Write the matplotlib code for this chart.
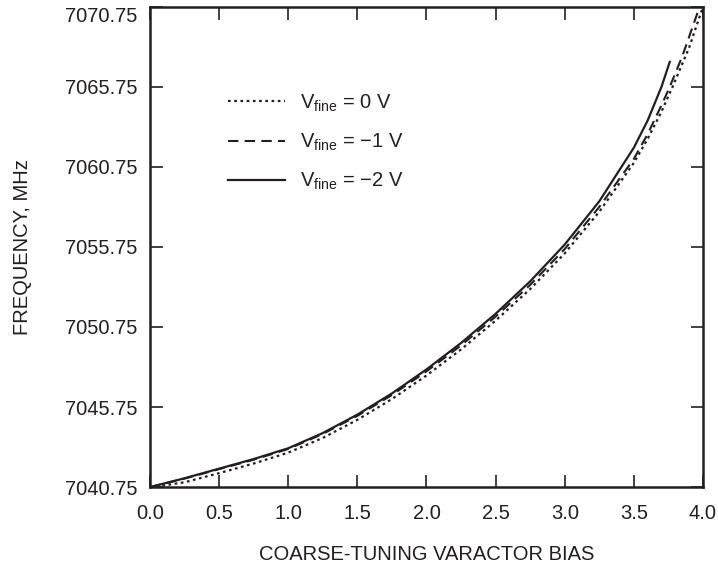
#!/usr/bin/env python3
import matplotlib
matplotlib.use("Agg")
import matplotlib.pyplot as plt

plt.rcParams["font.family"] = ["Liberation Sans", "DejaVu Sans"]
plt.rcParams["mathtext.fontset"] = "custom"
plt.rcParams["mathtext.rm"] = "Liberation Sans"
plt.rcParams["mathtext.it"] = "Liberation Sans"

INK = "#231f20"
FS = 14.5

# coarse-tuning bias (V) vs frequency (MHz)
x_m2 = [0.0, 0.25, 0.5, 0.75, 1.0, 1.25, 1.5, 1.75, 2.0, 2.25, 2.5, 2.75, 3.0, 3.25, 3.5, 3.6, 3.7, 3.76]
f_m2 = [7040.75, 7041.3, 7041.9, 7042.5, 7043.175, 7044.125, 7045.275, 7046.6, 7048.1, 7049.75,
        7051.575, 7053.6, 7055.9, 7058.6, 7061.95, 7063.65, 7065.75, 7067.31]

x_m1 = [0.0, 0.25, 0.5, 0.75, 1.0, 1.25, 1.5, 1.75, 2.0, 2.25, 2.5, 2.75, 3.0, 3.25, 3.5, 3.6, 3.7, 3.76, 3.85, 3.97]
f_m1 = [7040.75, 7041.28, 7041.87, 7042.46, 7043.13, 7044.07, 7045.2, 7046.5, 7047.98, 7049.6,
        7051.4, 7053.38, 7055.62, 7058.25, 7061.25, 7062.8, 7064.6, 7065.75, 7067.65, 7070.6]

x_0 = [0.0, 0.25, 0.5, 0.75, 1.0, 1.25, 1.5, 1.75, 2.0, 2.25, 2.5, 2.75, 3.0, 3.25, 3.5, 3.6, 3.7, 3.78, 3.9, 4.0]
f_0 = [7040.72, 7041.05, 7041.62, 7042.22, 7042.9, 7043.82, 7044.95, 7046.25, 7047.72, 7049.35,
       7051.15, 7053.12, 7055.35, 7057.95, 7061.0, 7062.5, 7064.2, 7065.75, 7068.2, 7070.75]

xticks = [0.0, 0.5, 1.0, 1.5, 2.0, 2.5, 3.0, 3.5, 4.0]
yticks = [7040.75, 7045.75, 7050.75, 7055.75, 7060.75, 7065.75, 7070.75]

fig = plt.figure(figsize=(7.18, 5.73), dpi=100)
ax = fig.add_axes([0.209, 0.15, 0.770, 0.838])

ax.plot(x_0, f_0, color=INK, lw=1.6, ls=(0, (1.2, 1.6)), label="V$_{\\mathrm{fine}}$ = 0 V")
ax.plot(x_m1, f_m1, color=INK, lw=1.5, ls=(0, (5, 3)), label="V$_{\\mathrm{fine}}$ = \u22121 V")
ax.plot(x_m2, f_m2, color=INK, lw=1.6, ls="-", label="V$_{\\mathrm{fine}}$ = \u22122 V")

ax.set_xlim(0, 4.0)
ax.set_ylim(7040.75, 7070.75)
ax.set_xticks(xticks)
ax.set_xticklabels([f"{v:.1f}" for v in xticks])
ax.set_yticks(yticks)
ax.set_yticklabels([f"{v:.2f}" for v in yticks])
ax.get_yticklabels()[-1].set_va("top")

ax.tick_params(direction="in", length=9, width=1.2, top=True, right=True,
               labelsize=FS, colors=INK)
ax.tick_params(axis="x", pad=12)
ax.tick_params(axis="y", pad=9)
for s in ax.spines.values():
    s.set_linewidth(1.8)
    s.set_color(INK)

ax.set_xlabel("COARSE-TUNING VARACTOR BIAS", fontsize=FS, color=INK, labelpad=16)
ax.set_ylabel("FREQUENCY, MHz", fontsize=FS, color=INK, labelpad=24)

ax.legend(loc="upper left", bbox_to_anchor=(0.108, 0.86), frameon=False, fontsize=FS,
          handlelength=2.85, handletextpad=0.75, labelspacing=0.9, labelcolor=INK)

fig.savefig("out.png", dpi=100)
